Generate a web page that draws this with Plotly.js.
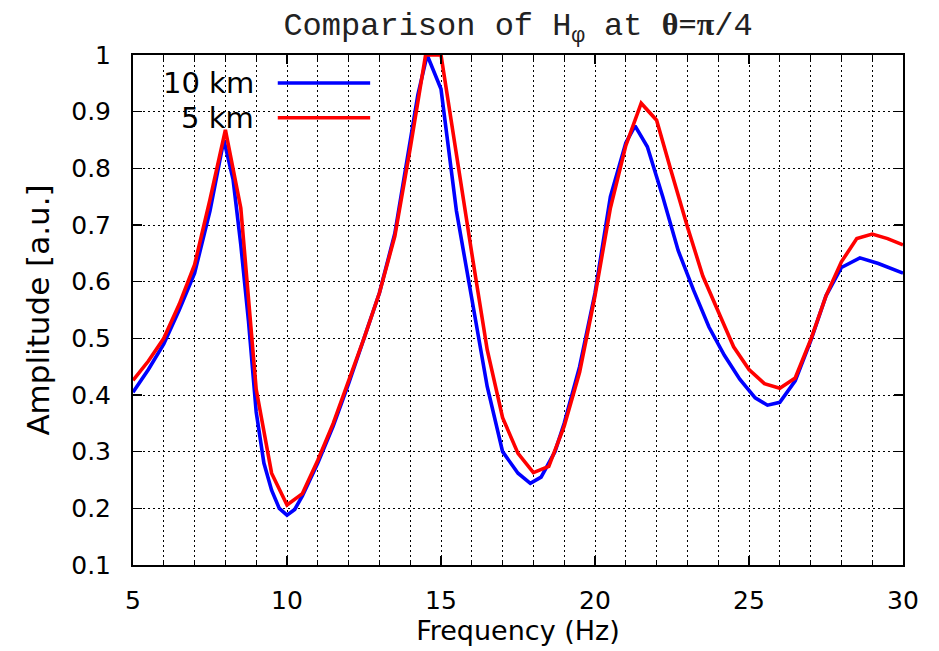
<!DOCTYPE html>
<html>
<head>
<meta charset="utf-8">
<script src="https://cdn.plot.ly/plotly-3.0.1.min.js"></script>
<style>html,body{margin:0;padding:0;background:#fff;}#chart{width:939px;height:651px;}</style>
</head>
<body>
<div id="chart"></div>
<script>
// Series: 10 km (blue)
const freq10 = [5.0, 5.5, 6.0, 6.5, 7.0, 7.5, 7.95, 8.25, 8.5, 8.75, 9.0, 9.25, 9.5, 9.75, 10.0, 10.25, 10.5, 11.0, 11.5, 12.0, 12.5, 13.0, 13.5, 14.0, 14.25, 14.55, 15.0, 15.5, 16.0, 16.5, 17.0, 17.5, 17.9, 18.25, 18.7, 19.0, 19.5, 20.0, 20.5, 21.0, 21.3, 21.7, 22.2, 22.7, 23.2, 23.7, 24.2, 24.7, 25.2, 25.6, 26.0, 26.5, 27.0, 27.5, 28.0, 28.6, 29.2, 30.0];
const amp10  = [0.405, 0.445, 0.49, 0.55, 0.615, 0.725, 0.85, 0.78, 0.665, 0.53, 0.37, 0.28, 0.232, 0.2, 0.188, 0.198, 0.222, 0.28, 0.345, 0.42, 0.5, 0.58, 0.685, 0.845, 0.93, 1.0, 0.94, 0.725, 0.57, 0.415, 0.3, 0.262, 0.244, 0.255, 0.3, 0.35, 0.45, 0.58, 0.75, 0.845, 0.875, 0.838, 0.75, 0.655, 0.585, 0.52, 0.47, 0.428, 0.395, 0.382, 0.387, 0.425, 0.495, 0.575, 0.625, 0.642, 0.632, 0.615];
// Series: 5 km (red)
const freq5 = [5.0, 5.5, 6.0, 6.5, 7.0, 7.5, 8.0, 8.5, 9.0, 9.5, 10.0, 10.5, 11.0, 11.5, 12.0, 12.5, 13.0, 13.5, 14.0, 14.5, 15.0, 15.5, 16.0, 16.5, 17.0, 17.5, 18.0, 18.5, 19.0, 19.5, 20.0, 20.5, 21.0, 21.5, 22.0, 22.5, 23.0, 23.5, 24.0, 24.5, 25.0, 25.5, 26.0, 26.5, 27.0, 27.5, 28.0, 28.5, 29.0, 29.5, 30.0];
const amp5  = [0.426, 0.46, 0.5, 0.56, 0.63, 0.745, 0.868, 0.73, 0.41, 0.262, 0.206, 0.226, 0.285, 0.35, 0.425, 0.5, 0.58, 0.68, 0.835, 1.0, 1.0, 0.82, 0.65, 0.48, 0.36, 0.297, 0.263, 0.274, 0.345, 0.44, 0.575, 0.73, 0.84, 0.915, 0.885, 0.79, 0.697, 0.61, 0.547, 0.485, 0.445, 0.42, 0.412, 0.43, 0.497, 0.575, 0.635, 0.676, 0.684, 0.676, 0.665];
const seriesNames = ["10 km", "5 km"];
const seriesColors = ["#0000ff", "#ff0000"];
const xTickVals = [5, 10, 15, 20, 25, 30];
const yTickVals = [0.1, 0.2, 0.3, 0.4, 0.5, 0.6, 0.7, 0.8, 0.9, 1];
const yTickText = ["0.1", "0.2", "0.3", "0.4", "0.5", "0.6", "0.7", "0.8", "0.9", "1"];

const sans = "DejaVu Sans, Verdana, sans-serif";
const traces = [
  {x: freq10, y: amp10, mode: "lines", name: seriesNames[0], line: {color: seriesColors[0], width: 3.6}},
  {x: freq5, y: amp5, mode: "lines", name: seriesNames[1], line: {color: seriesColors[1], width: 3.6}}
];

const gridDash = "2px,3px";
const layout = {
  width: 939, height: 651,
  margin: {l: 133, r: 36, t: 55, b: 86},
  paper_bgcolor: "#ffffff", plot_bgcolor: "#ffffff",
  showlegend: false,
  title: {
    text: 'Comparison of H<sub>φ</sub> at <span style="font-family:Liberation Serif, serif;font-weight:bold">θ=π</span>/4',
    font: {family: "Liberation Mono, Courier New, monospace", size: 32, color: "#222"},
    x: 0.5, xref: "paper", xanchor: "center", y: 0.963, yref: "container", yanchor: "middle"
  },
  xaxis: {
    range: [5, 30], tickvals: xTickVals, ticktext: xTickVals.map(String),
    showline: true, linecolor: "#000", linewidth: 2, mirror: "allticks",
    ticks: "inside", ticklen: 9, tickwidth: 1.5, tickcolor: "#000",
    ticklabelstandoff: 12,
    showgrid: true, gridcolor: "#000", gridwidth: 1, griddash: gridDash,
    minor: {dtick: 1, tick0: 5, ticks: "inside", ticklen: 5, tickwidth: 1, tickcolor: "#000",
            showgrid: true, gridcolor: "#000", gridwidth: 1, griddash: gridDash},
    zeroline: false,
    tickfont: {family: sans, size: 25, color: "#000"},
    title: {text: "Frequency (Hz)", font: {family: sans, size: 27, color: "#000"}, standoff: 2}
  },
  yaxis: {
    range: [0.1, 1], tickvals: yTickVals, ticktext: yTickText,
    showline: true, linecolor: "#000", linewidth: 2, mirror: "allticks",
    ticks: "inside", ticklen: 9, tickwidth: 1.5, tickcolor: "#000",
    ticklabelstandoff: 15,
    showgrid: true, gridcolor: "#000", gridwidth: 1, griddash: gridDash,
    zeroline: false,
    tickfont: {family: sans, size: 25, color: "#000"},
    title: {text: "Amplitude [a.u.]", font: {family: sans, size: 31, color: "#000"}, standoff: 12}
  },
  annotations: [
    {text: seriesNames[0], xref: "paper", yref: "paper", x: 0.16, y: 0.945, xanchor: "right", yanchor: "middle", showarrow: false, font: {family: sans, size: 29, color: "#000"}},
    {text: seriesNames[1], xref: "paper", yref: "paper", x: 0.16, y: 0.877, xanchor: "right", yanchor: "middle", showarrow: false, font: {family: sans, size: 29, color: "#000"}}
  ],
  shapes: [
    {type: "rect", xref: "paper", yref: "paper", x0: 0.003, x1: 0.333, y0: 0.848, y1: 0.997, fillcolor: "#fff", line: {width: 0}, layer: "below"},
    {type: "line", xref: "paper", yref: "paper", x0: 0.188, x1: 0.308, y0: 0.945, y1: 0.945, line: {color: seriesColors[0], width: 3.6}},
    {type: "line", xref: "paper", yref: "paper", x0: 0.188, x1: 0.308, y0: 0.877, y1: 0.877, line: {color: seriesColors[1], width: 3.6}}
  ]
};
Plotly.newPlot("chart", traces, layout, {displayModeBar: false, staticPlot: true});
</script>
</body>
</html>
